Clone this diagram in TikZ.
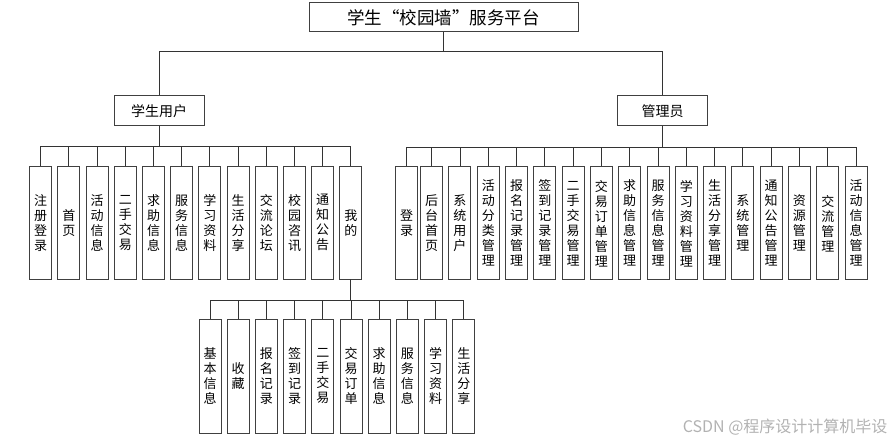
\documentclass[tikz,border=0pt]{standalone}
\usepackage{fontspec}
\setmainfont{Noto Sans CJK SC}
\usetikzlibrary{positioning}

\begin{document}
\begin{tikzpicture}[
        x=1pt, y=-1pt,
        plataforma/.style={
            rectangle,
            minimum width=269pt,
            minimum height=29pt,
            draw=black!75,
            line width=1pt,
            inner sep=0pt,
            font=\fontsize{17.5}{20}\selectfont
        },
        rol/.style={
            rectangle,
            minimum width=90pt,
            minimum height=30pt,
            draw=black!75,
            line width=1pt,
            inner sep=0pt,
            font=\fontsize{14}{16}\selectfont
        },
        modulo/.style={
            rectangle,
            minimum width=22pt,
            minimum height=113pt,
            align=center,
            draw=black!75,
            line width=1pt,
            inner sep=0pt,
            font=\fontsize{13}{15}\selectfont
        },
        conector/.style={draw=black!80, line width=0.9pt}
    ]
        \useasboundingbox (0,0) rectangle (895,441);

        \node[plataforma] (raiz) at (443.5,17.5) {学生“校园墙”服务平台};
        \node[rol] (estudiante) at (159,111) {学生用户};
        \node[rol] (admin) at (662.5,111) {管理员};

        \foreach \txt [count=\i] in {
            {注\\册\\登\\录}, {首\\页}, {活\\动\\信\\息}, {二\\手\\交\\易},
            {求\\助\\信\\息}, {服\\务\\信\\息}, {学\\习\\资\\料}, {生\\活\\分\\享},
            {交\\流\\论\\坛}, {校\\园\\咨\\讯}, {通\\知\\公\\告}, {我\\的}}
            \node[modulo] (s\i) at ({40.7+28.2*(\i-1)},222.7) {\txt};

        \foreach \txt [count=\i] in {
            {登\\录}, {后\\台\\首\\页}, {系\\统\\用\\户}, {活\\动\\分\\类\\管\\理},
            {报\\名\\记\\录\\管\\理}, {签\\到\\记\\录\\管\\理}, {二\\手\\交\\易\\管\\理},
            {交\\易\\订\\单\\管\\理}, {求\\助\\信\\息\\管\\理}, {服\\务\\信\\息\\管\\理},
            {学\\习\\资\\料\\管\\理}, {生\\活\\分\\享\\管\\理}, {系\\统\\管\\理},
            {通\\知\\公\\告\\管\\理}, {资\\源\\管\\理}, {交\\流\\管\\理},
            {活\\动\\信\\息\\管\\理}} {
            \pgfmathsetmacro\px{\i==1 ? 406.6 : 403.4+28.29*(\i-1)}
            \node[modulo] (a\i) at (\px,223.3) {\txt};
        }

        \foreach \txt [count=\i] in {
            {基\\本\\信\\息}, {收\\藏}, {报\\名\\记\\录}, {签\\到\\记\\录},
            {二\\手\\交\\易}, {交\\易\\订\\单}, {求\\助\\信\\息}, {服\\务\\信\\息},
            {学\\习\\资\\料}, {生\\活\\分\\享}}
            \node[modulo, minimum height=114pt] (m\i) at ({210+28.2*(\i-1)},376.3) {\txt};

        \node[anchor=east, text=black!30, font=\fontsize{16}{18}\selectfont] (marca) at (891,427) {CSDN @程序设计计算机毕设};

        \draw[conector] (raiz.south) -- ++(0,19) -| (estudiante.north);
        \draw[conector] (raiz.south) -- ++(0,19) -| (admin.north);
        \foreach \i in {1,...,12}
            \draw[conector] (estudiante.south) -- ++(0,20) -| (s\i.north);
        \foreach \i in {1,...,17}
            \draw[conector] (admin.south) -- ++(0,20.5) -| (a\i.north);
        \foreach \i in {1,...,10}
            \draw[conector] (s12.south) -- ++(0,21) -| (m\i.north);
    \end{tikzpicture}
\end{document}
